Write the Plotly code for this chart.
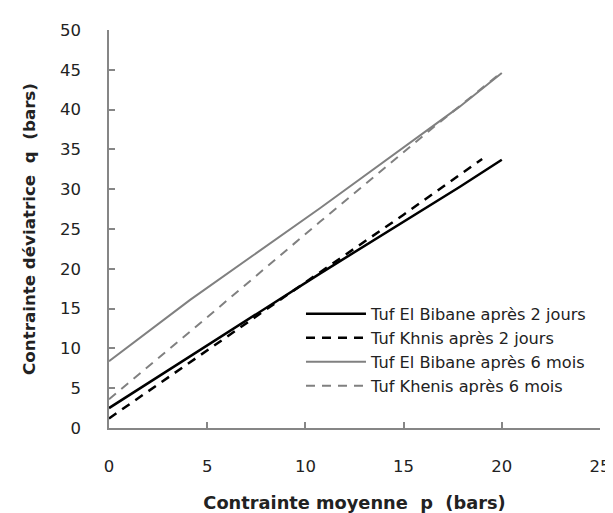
import plotly.graph_objects as go

# Data
x_bib_2j = [0, 4.13, 10.74, 17.87, 20]
y_bib_2j = [2.5, 9.0, 19.4, 30.3, 33.7]

x_khn_2j = [0, 5, 10, 15, 19]
y_khn_2j = [1.2, 9.8, 18.3, 26.8, 33.8]

x_bib_6m = [0, 4.13, 10.74, 17.87, 20]
y_bib_6m = [8.4, 16.1, 27.6, 40.4, 44.6]

x_khn_6m = [0, 4.13, 10.74, 16.68, 20]
y_khn_6m = [3.6, 12.1, 25.9, 38.1, 44.7]

names = ["Tuf El Bibane après 2 jours", "Tuf Khnis après 2 jours",
         "Tuf El Bibane après 6 mois", "Tuf Khenis après 6 mois"]

x_ticks = [0, 5, 10, 15, 20, 25]
y_ticks = [0, 5, 10, 15, 20, 25, 30, 35, 40, 45, 50]

FONT = "DejaVu Sans"
NB = "\u00a0"

fig = go.Figure()
fig.add_trace(go.Scatter(x=x_bib_2j, y=y_bib_2j, mode="lines", name=names[0],
                         line=dict(color="#000000", width=2.5)))
fig.add_trace(go.Scatter(x=x_khn_2j, y=y_khn_2j, mode="lines", name=names[1],
                         line=dict(color="#000000", width=2.5, dash="9px,7px")))
fig.add_trace(go.Scatter(x=x_bib_6m, y=y_bib_6m, mode="lines", name=names[2],
                         line=dict(color="#808080", width=2)))
fig.add_trace(go.Scatter(x=x_khn_6m, y=y_khn_6m, mode="lines", name=names[3],
                         line=dict(color="#808080", width=2, dash="9px,7px")))

axis_common = dict(
    showgrid=False, zeroline=False, showline=True, linecolor="#868686", linewidth=1.5,
    ticks="inside", ticklen=6, tickcolor="#868686", tickwidth=1.5,
    tickfont=dict(family=FONT, size=16.5, color="#222222"),
    automargin=False,
)

fig.update_layout(
    width=605, height=505,
    margin=dict(l=101, r=13, t=22, b=85),
    paper_bgcolor="white", plot_bgcolor="white",
    showlegend=True,
    legend=dict(x=0.391, y=0.33, xanchor="left", yanchor="top",
                bgcolor="rgba(0,0,0,0)", itemwidth=60,
                font=dict(family=FONT, size=16.2, color="#222222"),
                tracegroupgap=0),
    xaxis=dict(range=[0, 25], tickvals=x_ticks, ticklabelstandoff=22,
               title=dict(text=f"Contrainte moyenne{NB}{NB}p{NB}{NB}(bars)",
                          font=dict(family=FONT, size=17.8, color="#222222", weight="bold"),
                          standoff=29),
               **axis_common),
    yaxis=dict(range=[0, 50], tickvals=y_ticks, ticklabelstandoff=23,
               title=dict(text=f"Contrainte déviatrice{NB}{NB}q{NB}{NB}(bars)",
                          font=dict(family=FONT, size=16.7, color="#222222", weight="bold"),
                          standoff=20),
               **axis_common),
    shapes=[
        dict(type="line", xref="paper", yref="paper", x0=-0.2088, x1=-0.2088, y0=-0.3, y1=1.063,
             line=dict(color="#d0d0d0", width=2)),
        dict(type="line", xref="paper", yref="paper", x0=-0.2088, x1=1.1, y0=1.063, y1=1.063,
             line=dict(color="#d0d0d0", width=2)),
    ],
)

fig.write_html("out.html")
